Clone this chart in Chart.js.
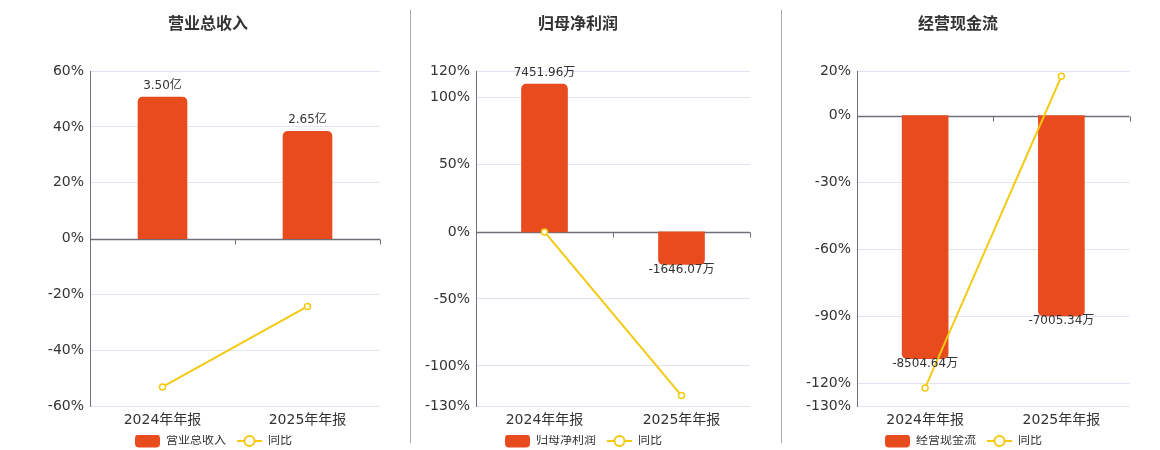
<!DOCTYPE html>
<html>
<head>
<meta charset="utf-8">
<script src="https://cdn.jsdelivr.net/npm/chart.js@4.4.1/dist/chart.umd.min.js"></script>
<style>
  html, body { margin: 0; padding: 0; background: #fff; width: 1160px; height: 450px; overflow: hidden; }
  .panel { position: absolute; top: 0; height: 457px; }
  .sep { position: absolute; top: 10px; height: 433px; width: 1px; background: #aaa; }
</style>
</head>
<body>
<div class="panel" style="left:20px;width:380px"><canvas id="c1"></canvas></div>
<div class="panel" style="left:400px;width:360px"><canvas id="c2"></canvas></div>
<div class="panel" style="left:785px;width:350px"><canvas id="c3"></canvas></div>
<div class="sep" style="left:410px"></div>
<div class="sep" style="left:781px"></div>
<script>
// 数据
const categories = ['2024年年报', '2025年年报'];

const revenueValues = [3.50, 2.65];        // 亿
const revenueYoy = [-53.1, -24.29];        // %
const revenueTicks = [60, 40, 20, 0, -20, -40, -60];

const profitValues = [7451.96, -1646.07];  // 万
const profitYoy = [0, -122.09];
const profitTicks = [120, 100, 50, 0, -50, -100, -130];

const cashValues = [-8504.64, -7005.34];   // 万
const cashYoy = [-121.8, 17.63];
const cashTicks = [20, 0, -30, -60, -90, -120, -130];

const BAR_COLOR = '#E84C1E';
const LINE_COLOR = '#F3C912';

Chart.defaults.font.family = '"DejaVu Sans", "Noto Sans CJK SC", sans-serif';
Chart.defaults.color = '#333';

// 图例图标 (左边留 11px 作为图例项间距)
const GAP = 11;
function barIcon(color) {
  const c = document.createElement('canvas');
  c.width = GAP + 25; c.height = 14;
  const g = c.getContext('2d');
  g.fillStyle = color;
  g.beginPath();
  g.roundRect(GAP, 0.5, 25, 13, 4);
  g.fill();
  return c;
}
function lineIcon(color) {
  const c = document.createElement('canvas');
  c.width = GAP + 25; c.height = 14;
  const g = c.getContext('2d');
  g.strokeStyle = color;
  g.lineWidth = 2;
  g.beginPath();
  g.moveTo(GAP, 7); g.lineTo(GAP + 25, 7);
  g.stroke();
  g.beginPath();
  g.arc(GAP + 12.5, 7, 5, 0, Math.PI * 2);
  g.fillStyle = '#fff';
  g.fill();
  g.stroke();
  return c;
}

// 零轴线和刻度
const zeroAxis = {
  id: 'zeroAxis',
  beforeDatasetsDraw(chart) {
    const ctx = chart.ctx;
    const y = Math.round(chart.scales.y.getPixelForValue(0)) + 0.5;
    const xs = chart.scales.x;
    const half = (xs.getPixelForValue(1) - xs.getPixelForValue(0)) / 2;
    ctx.save();
    ctx.strokeStyle = '#6E7079';
    ctx.lineWidth = 1.5;
    ctx.beginPath();
    ctx.moveTo(chart.chartArea.left, y);
    ctx.lineTo(chart.chartArea.right, y);
    ctx.stroke();
    ctx.lineWidth = 1;
    for (let i = 0; i < categories.length; i++) {
      const bx = Math.round(xs.getPixelForValue(i) + half) + 0.5;
      ctx.beginPath();
      ctx.moveTo(bx, y);
      ctx.lineTo(bx, y + 5);
      ctx.stroke();
    }
    ctx.restore();
  }
};

// 柱子数值标签
const barLabels = {
  id: 'barLabels',
  afterDatasetsDraw(chart, args, opts) {
    const ctx = chart.ctx;
    const meta = chart.getDatasetMeta(0);
    const vals = chart.data.datasets[0].data;
    ctx.save();
    ctx.font = '12px "DejaVu Sans", "Noto Sans CJK SC", sans-serif';
    ctx.fillStyle = '#333';
    ctx.textAlign = 'center';
    ctx.textBaseline = 'middle';
    meta.data.forEach((el, i) => {
      const v = vals[i];
      const y = v >= 0 ? el.y - 11 : el.y + 5;
      ctx.fillText(v.toFixed(2) + opts.unit, el.x, y);
    });
    ctx.restore();
  }
};

function makeChart(id, cfg) {
  const tmin = Math.min(...cfg.ticks), tmax = Math.max(...cfg.ticks);
  return new Chart(document.getElementById(id), {
    type: 'bar',
    data: {
      labels: categories,
      datasets: [
        {
          type: 'bar',
          label: cfg.name,
          data: cfg.values,
          yAxisID: 'y2',
          backgroundColor: BAR_COLOR,
          barThickness: cfg.barWidth,
          borderRadius: 5,
          borderSkipped: 'start',
          order: 1
        },
        {
          type: 'line',
          label: '同比',
          data: cfg.yoy,
          yAxisID: 'y',
          borderColor: LINE_COLOR,
          borderWidth: 2,
          pointRadius: 3,
          pointBorderWidth: 1.5,
          pointBackgroundColor: '#fff',
          pointBorderColor: LINE_COLOR,
          tension: 0,
          order: 0
        }
      ]
    },
    options: {
      responsive: true,
      maintainAspectRatio: false,
      animation: false,
      layout: { padding: { left: 0, right: 4 } },
      scales: {
        x: {
          offset: true,
          grid: { display: false, drawTicks: false },
          border: { display: false },
          ticks: { font: { size: 14 }, color: '#333', padding: 6 }
        },
        y: {
          position: 'left',
          min: tmin,
          max: tmax,
          afterBuildTicks: axis => { axis.ticks = cfg.ticks.map(v => ({ value: v })); },
          afterFit: axis => { axis.width = cfg.axisWidth; },
          ticks: { font: { size: 14 }, color: '#333', padding: 6, callback: v => v + '%' },
          grid: {
            drawTicks: false,
            color: c => (c.tick && c.tick.value === 0) ? 'rgba(0,0,0,0)' : '#E0E6F1'
          },
          border: { display: true, color: '#6E7079' }
        },
        y2: {
          position: 'right',
          min: tmin * cfg.k,
          max: tmax * cfg.k,
          afterFit: axis => { axis.width = cfg.rightWidth - 4; },
          ticks: { display: false },
          grid: { display: false, drawTicks: false },
          border: { display: false }
        }
      },
      plugins: {
        title: {
          display: true,
          text: cfg.title,
          font: { size: 16, weight: 'bold' },
          color: '#333',
          padding: { top: 15, bottom: 36.8 }
        },
        legend: {
          position: 'bottom',
          labels: {
            usePointStyle: true,
            pointStyleWidth: GAP + 25,
            padding: 0,
            font: { size: 12 },
            color: '#333',
            generateLabels: () => [
              { text: cfg.name, pointStyle: barIcon(BAR_COLOR), fillStyle: BAR_COLOR, strokeStyle: BAR_COLOR, lineWidth: 0, hidden: false, datasetIndex: 0, fontColor: '#333' },
              { text: '同比', pointStyle: lineIcon(LINE_COLOR), fillStyle: LINE_COLOR, strokeStyle: LINE_COLOR, lineWidth: 0, hidden: false, datasetIndex: 1, fontColor: '#333' }
            ]
          }
        },
        tooltip: { enabled: true },
        barLabels: { unit: cfg.unit }
      }
    },
    plugins: [zeroAxis, barLabels]
  });
}

makeChart('c1', { title: '营业总收入', name: '营业总收入', values: revenueValues, yoy: revenueYoy, ticks: revenueTicks, unit: '亿', k: 0.06903, axisWidth: 70, rightWidth: 20, barWidth: 49 });
makeChart('c2', { title: '归母净利润', name: '归母净利润', values: profitValues, yoy: profitYoy, ticks: profitTicks, unit: '万', k: 67.6, axisWidth: 76, rightWidth: 10, barWidth: 46 });
makeChart('c3', { title: '经营现金流', name: '经营现金流', values: cashValues, yoy: cashYoy, ticks: cashTicks, unit: '万', k: 78.2, axisWidth: 72, rightWidth: 5, barWidth: 46 });
</script>
</body>
</html>
